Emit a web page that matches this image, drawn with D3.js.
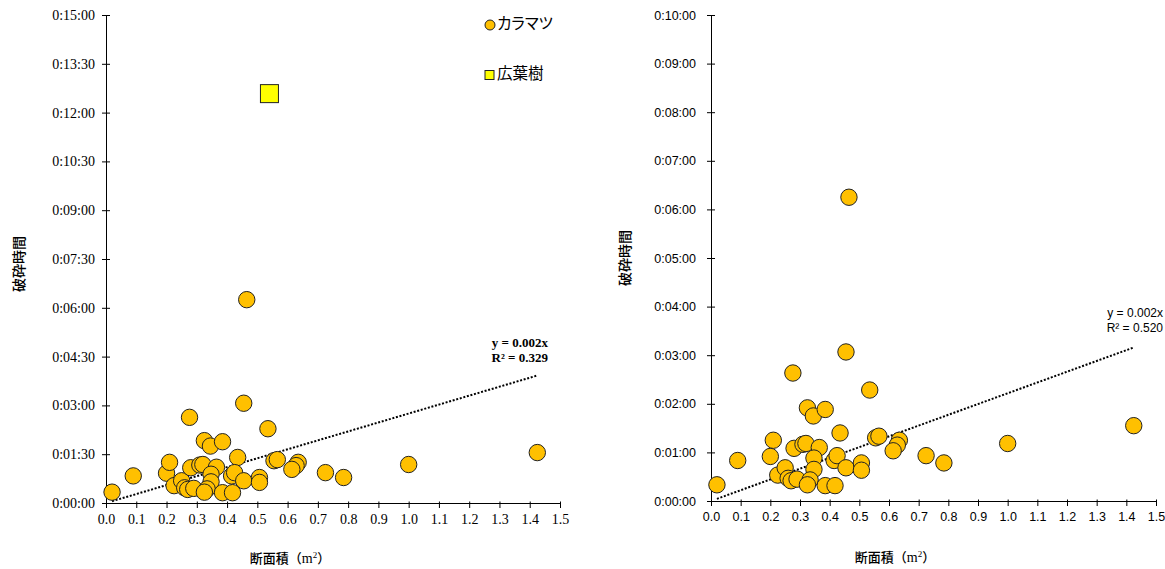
<!DOCTYPE html>
<html><head><meta charset="utf-8">
<script src="https://cdn.jsdelivr.net/npm/d3@7"></script>
<style>body{margin:0;background:#fff} svg{display:block}</style>
</head><body><svg id="c" width="1165" height="569"></svg>
<script>
// ---- data (x: cross-section area m², y: crushing time in seconds) ----
const larchArea = [0.02,0.09,0.20,0.21,0.225,0.25,0.26,0.27,0.29,0.28,0.31,0.32,0.325,0.345,0.385,0.535,0.435,0.365,0.347,0.347,0.334,0.325,0.385,0.418,0.415,0.425,0.455,0.507,0.507,0.555,0.566,0.635,0.628,0.614,0.725,0.785,0.276,0.455,0.465,1.0,1.425];
const larchTime = [20,50,55,75,32,41,28,25,27,65,70,71,115,105,113,137,84,66,53,39,26,20,19,19,50,56,41,47,38,78,80,75,69,62,56,47,158,184,375,71,93];
const broadleafArea = [0.54];
const broadleafTime = [755];
const xTicks = [0,0.1,0.2,0.3,0.4,0.5,0.6,0.7,0.8,0.9,1.0,1.1,1.2,1.3,1.4,1.5];
const leftYTicks = [0,90,180,270,360,450,540,630,720,810,900];
const rightYTicks = [0,60,120,180,240,300,360,420,480,540,600];
const trendSlope = [165,133]; // seconds per m² (left, right)
const trendLabelsLeft = ["y = 0.002x","R² = 0.329"];
const trendLabelsRight = ["y = 0.002x","R² = 0.520"];
const legendLabels = ["カラマツ","広葉樹"];
const yTitle = "破砕時間";

const svg = d3.select("#c");
const larch = larchArea.map((a,i)=>({a, t:larchTime[i]}));
const broad = broadleafArea.map((a,i)=>({a, t:broadleafTime[i]}));
const fmt = s => { const h=Math.floor(s/3600), m=Math.floor((s%3600)/60), ss=Math.round(s%60);
  return `${h}:${String(m).padStart(2,"0")}:${String(ss).padStart(2,"0")}`; };

function panel(cfg){
  const g = svg.append("g");
  const x = d3.scaleLinear().domain([0,1.5]).range([cfg.x0,cfg.x1]);
  const y = d3.scaleLinear().domain([0,cfg.yMax]).range([cfg.yBot,cfg.yTop]);
  // trend line
  const ext = d3.extent(larchArea);
  g.append("path").datum(ext).attr("d", d3.line().x(d=>x(d)).y(d=>y(d*cfg.slope)))
    .attr("fill","none").attr("stroke","#000").attr("stroke-width",2).attr("stroke-dasharray","2 1.7");
  // axes
  const ya = g.append("g").attr("transform",`translate(${cfg.x0},0)`)
    .call(d3.axisLeft(y).tickValues(cfg.yTicks).tickFormat(fmt).tickSizeOuter(0).tickSizeInner(4).tickPadding(cfg.yPad));
  ya.selectAll(".tick line").attr("x1",-4).attr("x2",4);
  const xa = g.append("g").attr("transform",`translate(0,${cfg.yBot})`)
    .call(d3.axisBottom(x).tickValues(xTicks).tickFormat(d3.format(".1f")).tickSizeOuter(0).tickSizeInner(5).tickPadding(cfg.xPad));
  xa.selectAll(".tick line").attr("y1",-1.5);
  [ya,xa].forEach(a=>{ a.attr("font-family",cfg.font).attr("font-size",cfg.fs);
    a.selectAll("text").attr("fill","#000"); a.selectAll("line,path").attr("stroke","#000"); });
  // points
  g.append("g").selectAll("circle").data(larch).join("circle")
    .attr("cx",d=>x(d.a)).attr("cy",d=>y(d.t)).attr("r",8.2)
    .attr("fill","#FFC000").attr("stroke","#222").attr("stroke-width",1);
  if(cfg.broad){
    g.append("g").selectAll("rect").data(broad).join("rect")
      .attr("x",d=>x(d.a)-9).attr("y",d=>y(d.t)-9).attr("width",18).attr("height",18)
      .attr("fill","#FFFF00").attr("stroke","#222").attr("stroke-width",1);
  }
  // trend label
  const tl = g.append("text").attr("text-anchor","end").attr("font-family",cfg.tlFont)
    .attr("font-size",cfg.tlSize).attr("font-weight",cfg.tlWeight);
  cfg.tlText.forEach((t,i)=> tl.append("tspan").attr("x",cfg.tlX).attr("y",cfg.tlY+i*15).text(t));
  // titles
  g.append("text").attr("transform",`translate(${cfg.ytX},${cfg.ytY}) rotate(-90)`)
    .attr("text-anchor","middle").attr("dominant-baseline","middle")
    .attr("font-family","Noto Sans CJK JP").attr("font-size",14).attr("font-weight",500).text(yTitle);
  const xt = g.append("text").attr("x",cfg.xtX).attr("y",cfg.xtY).attr("text-anchor","middle")
    .attr("font-family","Noto Sans CJK JP").attr("font-size",13).attr("font-weight",500);
  xt.append("tspan").text("断面積（");
  xt.append("tspan").attr("font-family","Liberation Serif").attr("font-size",14).attr("font-weight",400).text("m");
  xt.append("tspan").attr("font-family","Liberation Serif").attr("font-size",9).attr("font-weight",400).attr("dy",-5).text("2");
  xt.append("tspan").attr("dy",5).text("）");
}

panel({x0:106,x1:560,yTop:15,yBot:503,yMax:900,yTicks:leftYTicks,slope:trendSlope[0],
  font:"Liberation Serif",fs:14,yPad:7,xPad:6,broad:true,
  tlFont:"Liberation Serif",tlSize:13,tlWeight:"bold",tlText:trendLabelsLeft,tlX:548,tlY:347,
  ytX:20,ytY:264,xtX:290,xtY:563});
panel({x0:711,x1:1156,yTop:15,yBot:501,yMax:600,yTicks:rightYTicks,slope:trendSlope[1],
  font:"Liberation Sans",fs:12.5,yPad:11,xPad:6,broad:false,
  tlFont:"Liberation Sans",tlSize:12,tlWeight:"normal",tlText:trendLabelsRight,tlX:1163,tlY:317,
  ytX:626,ytY:258,xtX:895,xtY:562});

// legend
const lg = svg.append("g");
lg.append("circle").attr("cx",490).attr("cy",25).attr("r",5).attr("fill","#FFC000").attr("stroke","#222");
lg.append("rect").attr("x",485).attr("y",70.5).attr("width",9).attr("height",9).attr("fill","#FFFF00").attr("stroke","#222");
lg.selectAll("text").data(legendLabels).join("text")
  .attr("x",497).attr("y",(d,i)=>i?75:25).attr("dominant-baseline","middle")
  .attr("font-family","Noto Sans CJK JP").attr("font-size",15.5).attr("fill","#000")
  .style("font-feature-settings",'"palt" 1').text(d=>d);
</script></body></html>
